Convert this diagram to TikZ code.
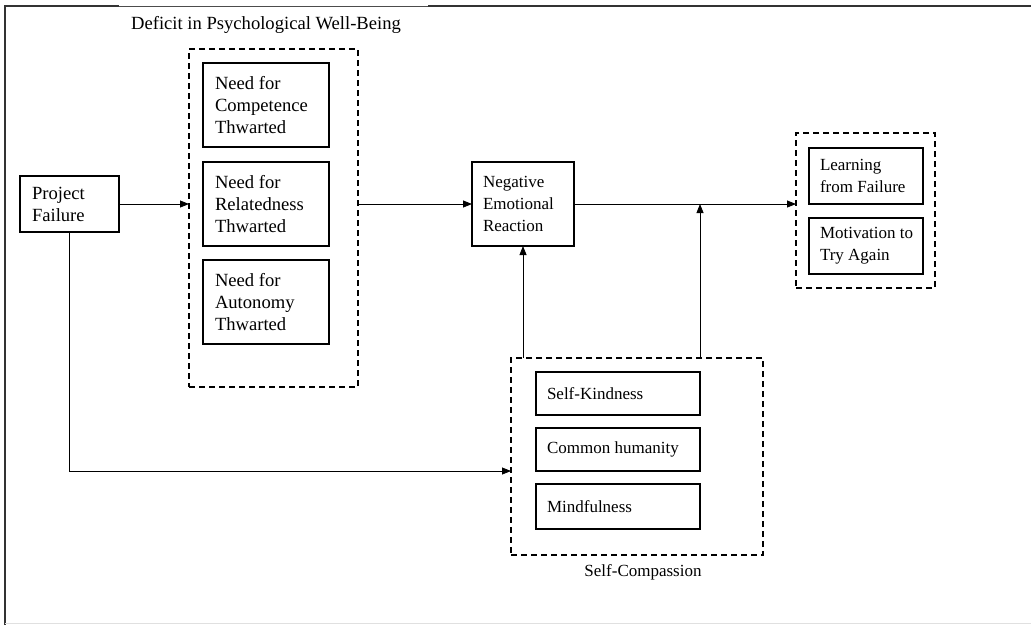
\documentclass[tikz,border=0pt]{standalone}
\usepackage{fontspec}
\setmainfont{Liberation Serif}
\usetikzlibrary{arrows.meta}
\begin{document}
\begin{tikzpicture}[x=1pt,y=-1pt,
  every node/.style={font=\fontsize{17}{22}\selectfont},
  bigtext/.style={font=\fontsize{18.6}{22}\selectfont},
  inbox/.style={draw, line width=1.4pt, anchor=north west, align=flush left, inner ysep=0pt, outer sep=0pt},
  grpbox/.style={draw, dashed, dash pattern=on 6pt off 4pt, line width=1.4pt, anchor=north west, inner sep=0pt, outer sep=0pt},
  lbl/.style={inner sep=0pt},
  arr/.style={line width=0.8pt, -{Triangle[length=9pt,width=7pt]}},
  frameline/.style={line width=1.2pt, draw=black!80}
]
\useasboundingbox (0,0) rectangle (1031,625);
% frame
\draw[frameline] (5,625) -- (5,6) -- (119,6);
\draw[line width=0.7pt, draw=black!70] (119,6) -- (428,6);
\draw[frameline] (428,6) -- (1031,6);
\draw[line width=0.8pt, draw=black!12] (5,623.5) -- (1031,623.5);

% group boxes
\node[grpbox, minimum width=169, minimum height=338] (D1) at (189,49) {};
\node[grpbox, minimum width=139, minimum height=155] (D2) at (796,133) {};
\node[grpbox, minimum width=252, minimum height=197] (D3) at (511,358) {};

% labels
\node[lbl, bigtext] (title) at (266,25) {Deficit in Psychological Well-Being};
\node[lbl] (sclabel) at (643,572) {Self-Compassion};

% boxes
\node[inbox, bigtext, inner xsep=12pt, text width=75pt, minimum height=56] (PF) at (20,176) {Project\\Failure};
\node[inbox, bigtext, inner xsep=12pt, text width=102pt, minimum height=84] (C1) at (203,63) {Need for\\Competence\\Thwarted};
\node[inbox, bigtext, inner xsep=12pt, text width=102pt, minimum height=84] (C2) at (203,162) {Need for\\Relatedness\\Thwarted};
\node[inbox, bigtext, inner xsep=12pt, text width=102pt, minimum height=84] (C3) at (203,260) {Need for\\Autonomy\\Thwarted};
\node[inbox, inner xsep=11pt, text width=80pt, minimum height=84] (NER) at (472,162) {Negative\\Emotional\\Reaction};
\node[inbox, inner xsep=11pt, text width=92pt, minimum height=56] (LF) at (809,148) {Learning\\from Failure};
\node[inbox, inner xsep=11pt, text width=92pt, minimum height=56] (MT) at (809,218) {\mbox{Motivation to}\\Try Again};
\node[inbox, inner xsep=11pt, text width=142pt, minimum height=43] (SK) at (536,372) {Self-Kindness};
\node[inbox, inner xsep=11pt, text width=142pt, minimum height=43] (CH) at (536,428) {Common humanity};
\node[inbox, inner xsep=11pt, text width=142pt, minimum height=45] (MF) at (536,484) {Mindfulness};

% junction on the output line
\coordinate (J) at (SK.east |- NER.east);

% connectors
\draw[arr] (PF.east) -- (PF.east -| D1.west);
\draw[arr] (D1.east |- NER.west) -- (NER.west);
\draw[arr] (NER.east) -- (NER.east -| D2.west);
\draw[arr] (NER.south |- D3.north) -- (NER.south);
\draw[arr] (J |- D3.north) -- (J);
\draw[arr] (PF.south) |- (D3.west |- CH.south);
\end{tikzpicture}
\end{document}
